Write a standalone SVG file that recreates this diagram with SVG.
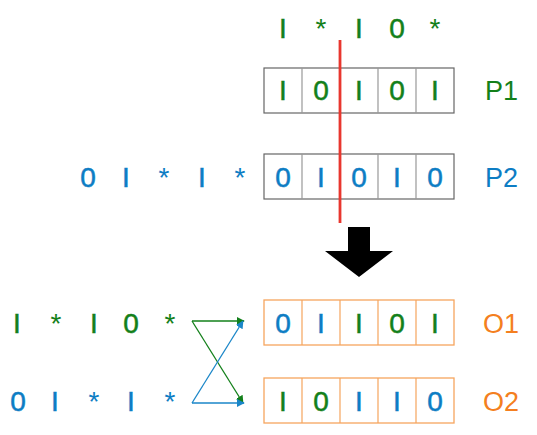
<svg xmlns="http://www.w3.org/2000/svg" width="537" height="435" viewBox="0 0 537 435">
<defs>
<style>
text{font-family:"Liberation Sans",Arial,sans-serif;font-size:28px;text-anchor:middle;stroke-width:0.5px}
.g{fill:#13801a;stroke:#13801a}.b{fill:#0d7dc4;stroke:#0d7dc4}.o{fill:#f47f20;stroke:#f47f20}
.lbl{font-size:27px;text-anchor:start;stroke-width:0}
.s{stroke-width:0}
.cell{fill:#fff;stroke:#666;stroke-width:1.2}
.div{stroke:#999;stroke-width:1.2}
.ocell{fill:#fff;stroke:#f6a55e;stroke-width:1.3}
.odiv{stroke:#f6a55e;stroke-width:1.2}
.gl{stroke:#13801a;stroke-width:1.3;fill:none}
.bl{stroke:#1a86c8;stroke-width:1.3;fill:none}
</style>
<marker id="ag" viewBox="0 0 10 10" refX="9" refY="5" markerWidth="8" markerHeight="8" markerUnits="userSpaceOnUse" orient="auto"><path d="M0,0L10,5L0,10z" fill="#13801a"/></marker>
<marker id="ab" viewBox="0 0 10 10" refX="9" refY="5" markerWidth="8" markerHeight="8" markerUnits="userSpaceOnUse" orient="auto"><path d="M0,0L10,5L0,10z" fill="#1a86c8"/></marker>
</defs>
<g id="top-row"><text class="g" x="283" y="38">I</text><text class="g s" x="321" y="38">*</text><text class="g" x="359" y="38">I</text><text class="g" x="397" y="38">0</text><text class="g s" x="435" y="38">*</text></g>
<g id="P1">
<rect class="cell" x="264" y="68" width="190" height="45"/>
<path class="div" d="M302,68V113M340,68V113M378,68V113M416,68V113"/>
<text class="g" x="283" y="100">I</text><text class="g" x="321" y="100">0</text><text class="g" x="359" y="100">I</text><text class="g" x="397" y="100">0</text><text class="g" x="435" y="100">I</text>
<text class="g lbl" x="485" y="100">P1</text>
</g>
<g id="P2-left"><text class="b" x="88" y="187">0</text><text class="b" x="126" y="187">I</text><text class="b s" x="164" y="187">*</text><text class="b" x="202" y="187">I</text><text class="b s" x="240" y="187">*</text></g>
<g id="P2">
<rect class="cell" x="264" y="154" width="190" height="45"/>
<path class="div" d="M302,154V199M340,154V199M378,154V199M416,154V199"/>
<text class="b" x="283" y="187">0</text><text class="b" x="321" y="187">I</text><text class="b" x="359" y="187">0</text><text class="b" x="397" y="187">I</text><text class="b" x="435" y="187">0</text>
<text class="b lbl" x="485" y="187">P2</text>
</g>
<g id="cut"><line x1="340" y1="40" x2="340" y2="223" stroke="#e8372e" stroke-width="2.8"/></g>
<g id="big-arrow"><path d="M348,227H370V251H393L359,277L325,251H348Z" fill="#000"/></g>
<g id="O1-left"><text class="g" x="17" y="333">I</text><text class="g s" x="56" y="333">*</text><text class="g" x="94" y="333">I</text><text class="g" x="131" y="333">0</text><text class="g s" x="170" y="333">*</text></g>
<g id="O2-left"><text class="b" x="18" y="411">0</text><text class="b" x="55" y="411">I</text><text class="b s" x="94" y="411">*</text><text class="b" x="131" y="411">I</text><text class="b s" x="170" y="411">*</text></g>
<g id="connectors">
<line class="gl" x1="192" y1="321" x2="244" y2="321" marker-end="url(#ag)"/>
<line class="gl" x1="192" y1="321" x2="243" y2="403" marker-end="url(#ag)"/>
<line class="bl" x1="192" y1="403" x2="244" y2="403" marker-end="url(#ab)"/>
<line class="bl" x1="192" y1="403" x2="243" y2="321" marker-end="url(#ab)"/>
</g>
<g id="O1">
<rect class="ocell" x="264" y="300" width="190" height="45"/>
<path class="odiv" d="M302,300V345M340,300V345M378,300V345M416,300V345"/>
<text class="b" x="283" y="333">0</text><text class="b" x="321" y="333">I</text><text class="g" x="359" y="333">I</text><text class="g" x="397" y="333">0</text><text class="g" x="435" y="333">I</text>
<text class="o lbl" x="483" y="333">O1</text>
</g>
<g id="O2">
<rect class="ocell" x="264" y="378" width="190" height="45"/>
<path class="odiv" d="M302,378V423M340,378V423M378,378V423M416,378V423"/>
<text class="g" x="283" y="411">I</text><text class="g" x="321" y="411">0</text><text class="b" x="359" y="411">I</text><text class="b" x="397" y="411">I</text><text class="b" x="435" y="411">0</text>
<text class="o lbl" x="483" y="411">O2</text>
</g>
</svg>
